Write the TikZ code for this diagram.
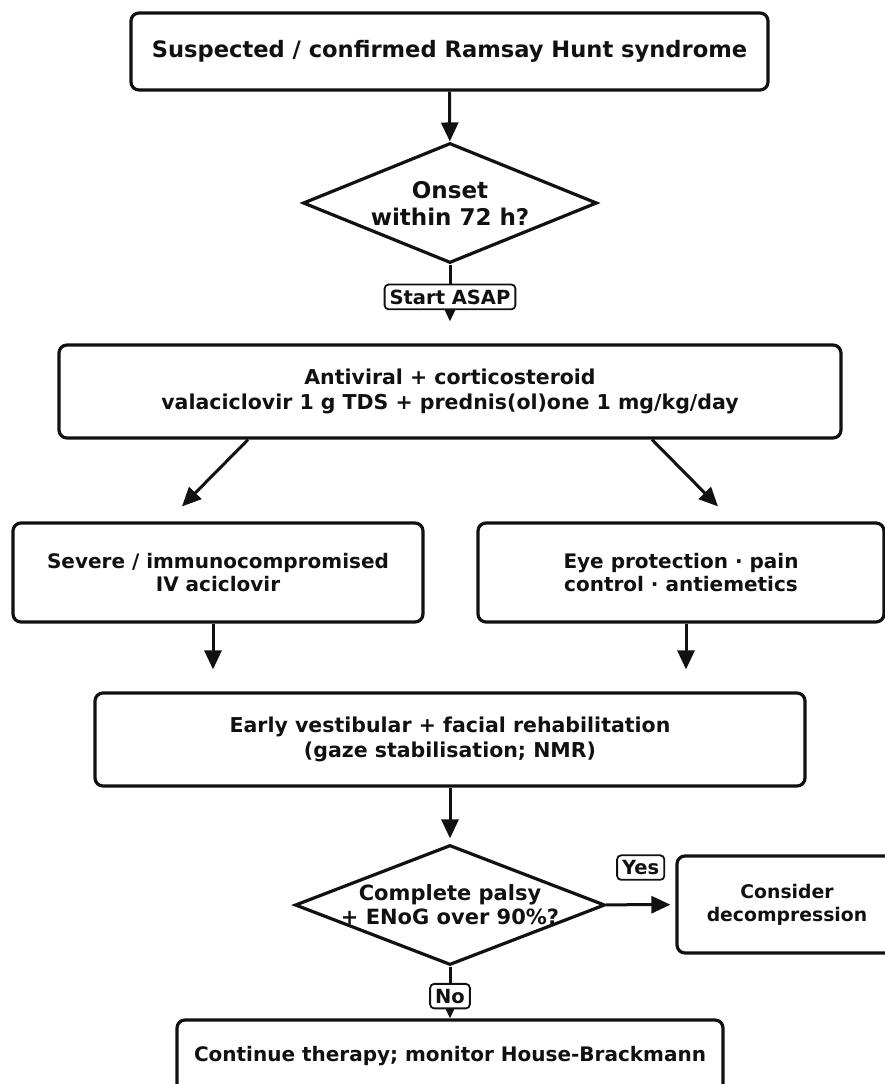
\documentclass[tikz,border=0pt]{standalone}
\usepackage{fontspec}
\setmainfont{DejaVu Sans}
\usetikzlibrary{arrows.meta,shapes.geometric,positioning}
\definecolor{ink}{HTML}{111111}

\tikzset{
  box/.style={draw=ink, line width=3.2pt, rounded corners=8pt, align=center, inner sep=0pt, text=ink, font=\bfseries\fontsize{20.5}{25}\selectfont},
  decision/.style={draw=ink, line width=3.2pt, diamond, inner sep=0pt},
  decisiontext/.style={align=center, text=ink, font=\bfseries\fontsize{21}{24}\selectfont},
  tag/.style={draw=ink, fill=white, line width=1.8pt, rounded corners=4pt, inner xsep=5pt, inner ysep=5pt, text=ink, font=\bfseries\fontsize{19.5}{22}\selectfont},
  flow/.style={draw=ink, line width=3pt, -{Triangle[length=19pt,width=17pt]}}
}

\begin{document}
\begin{tikzpicture}[x=1pt,y=-1pt]
\useasboundingbox (0,0) rectangle (885,1084);

\node (start) at (449.5,51.5) [box, minimum width=637, minimum height=77, font=\bfseries\fontsize{22.6}{26}\selectfont] {Suspected / confirmed Ramsay Hunt syndrome};
\node (onset) at (450,203) [decision, minimum width=294, minimum height=120] {};
\node (onsettxt) at (onset) [decisiontext, font=\bfseries\fontsize{23}{27}\selectfont] {Onset\\within 72 h?};
\node (care) at (450,391.5) [box, minimum width=782, minimum height=93] {Antiviral + corticosteroid\\valaciclovir 1 g TDS + prednis(ol)one 1 mg/kg/day};
\node (iv) at (218,572.5) [box, minimum width=410, minimum height=99, font=\bfseries\fontsize{20}{23.5}\selectfont] {Severe / immunocompromised\\IV aciclovir};
\node (eye) at (681,572.5) [box, minimum width=406, minimum height=99, font=\bfseries\fontsize{20}{23.5}\selectfont] {Eye protection · pain\\control · antiemetics};
\node (rehab) at (450,739.5) [box, minimum width=710, minimum height=93] {Early vestibular + facial rehabilitation\\(gaze stabilisation; NMR)};
\node (choice) at (450,905) [decision, minimum width=310, minimum height=120] {};
\node (choicetxt) at (choice) [decisiontext] {Complete palsy\\+ ENoG over 90\%?};
\node (surg) at (787,904.5) [box, minimum width=220, minimum height=97, font=\bfseries\fontsize{18.8}{23}\selectfont] {Consider\\decompression};
\node (cont) at (450,1056) [box, minimum width=546, minimum height=72, font=\bfseries\fontsize{20}{24}\selectfont] {Continue therapy; monitor House-Brackmann};

\draw[flow] (start) -- (onset);
\draw[flow, shorten >=22pt] (onset) -- node[tag, pos=0.41] {Start ASAP} (care);
\draw[flow] ([xshift=-202pt]care.south) -- ([xshift=-36pt,yshift=15pt]iv.north);
\draw[flow] ([xshift=202pt]care.south) -- ([xshift=37pt,yshift=15pt]eye.north);
\draw[flow, shorten >=22pt] ([xshift=-5pt]iv.south) -- ([xshift=-5pt]iv.south |- rehab.north);
\draw[flow, shorten >=22pt] ([xshift=5pt]eye.south) -- ([xshift=5pt]eye.south |- rehab.north);
\draw[flow, shorten >=5pt] (rehab) -- (choice);
\draw[flow, shorten >=5pt] (choice) -- node[tag, midway, above=24pt] {Yes} (surg);
\draw[flow] (choice) -- node[tag, pos=0.57] {No} (cont);

\end{tikzpicture}
\end{document}
